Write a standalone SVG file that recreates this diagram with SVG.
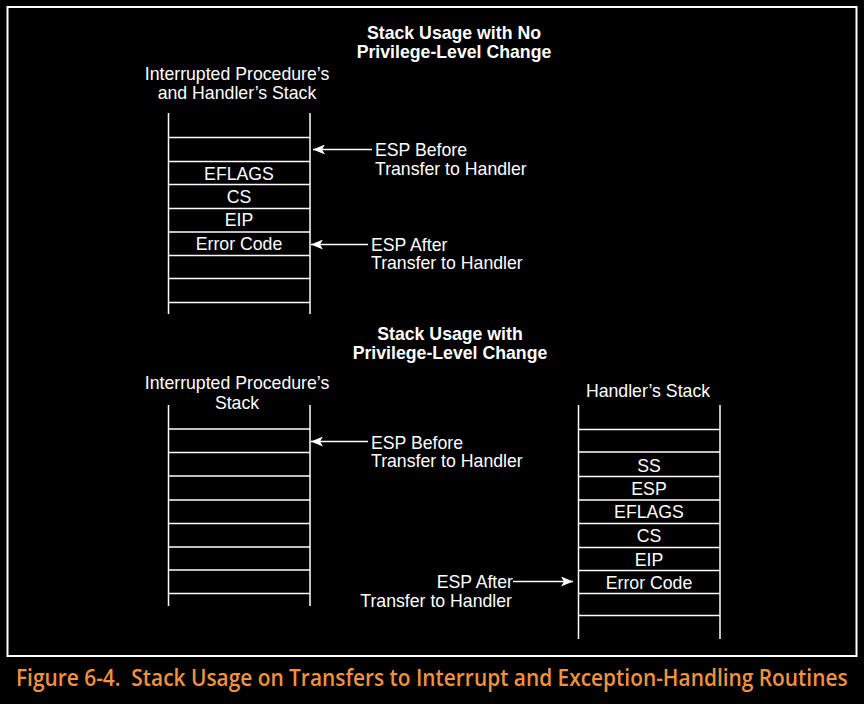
<svg xmlns="http://www.w3.org/2000/svg" width="864" height="704" viewBox="0 0 864 704">
<defs>
<style>
.t{font-family:"Liberation Sans",Arial,sans-serif;font-size:17.7px;fill:#fff}
.b{font-weight:bold}
.m{text-anchor:middle}
.e{text-anchor:end}
.ln{stroke:#fff;stroke-width:1.5;fill:none}
.cap{font-family:"Open Sans","Liberation Sans",sans-serif;font-size:24px;font-weight:600;fill:#F0923E}
</style>
<marker id="ah" viewBox="0 0 12 10" refX="12" refY="5" markerWidth="12" markerHeight="10" markerUnits="userSpaceOnUse" orient="auto">
<path d="M0,0 L12,5 L0,10 L3,5 Z" fill="#fff"/>
</marker>
</defs>
<rect x="0" y="0" width="864" height="704" fill="#000"/>
<rect x="7.5" y="7" width="849" height="649" fill="none" stroke="#fff" stroke-width="2"/>

<g id="title-top">
<text class="t b m" x="454" y="39">Stack Usage with No</text>
<text class="t b m" x="454" y="58">Privilege-Level Change</text>
</g>
<g id="stack-top">
<text class="t m" x="237" y="80">Interrupted Procedure’s</text>
<text class="t m" x="237" y="98.5">and Handler’s Stack</text>
<path class="ln" d="M168.5,113 V314 M310,113 V314 M168.5,137.5 H310 M168.5,161.5 H310 M168.5,184.5 H310 M168.5,208.5 H310 M168.5,232 H310 M168.5,255.5 H310 M168.5,278.5 H310 M168.5,302.5 H310"/>
<text class="t m" x="239" y="180">EFLAGS</text>
<text class="t m" x="239" y="203">CS</text>
<text class="t m" x="239" y="226">EIP</text>
<text class="t m" x="239" y="250">Error Code</text>
</g>
<g id="label-top-before">
<text class="t" x="375" y="156">ESP Before</text>
<text class="t" x="375" y="175">Transfer to Handler</text>
</g>
<g id="label-top-after">
<text class="t" x="371" y="250.5">ESP After</text>
<text class="t" x="371" y="269">Transfer to Handler</text>
</g>

<g id="title-bottom">
<text class="t b m" x="450" y="340">Stack Usage with</text>
<text class="t b m" x="450" y="359">Privilege-Level Change</text>
</g>
<g id="stack-interrupted">
<text class="t m" x="237" y="388.5">Interrupted Procedure’s</text>
<text class="t m" x="237" y="408.5">Stack</text>
<path class="ln" d="M168.5,405 V606 M310,405 V606 M168.5,429 H310 M168.5,452.5 H310 M168.5,476 H310 M168.5,500 H310 M168.5,523.5 H310 M168.5,547 H310 M168.5,570 H310 M168.5,593.5 H310"/>
</g>
<g id="label-bottom-before">
<text class="t" x="371" y="448.5">ESP Before</text>
<text class="t" x="371" y="467">Transfer to Handler</text>
</g>
<g id="stack-handler">
<text class="t m" x="648" y="397">Handler’s Stack</text>
<path class="ln" d="M578.5,405 V639 M720,405 V639 M578.5,429.5 H720 M578.5,452 H720 M578.5,476.5 H720 M578.5,500 H720 M578.5,523.5 H720 M578.5,547.5 H720 M578.5,570.5 H720 M578.5,593.5 H720 M578.5,615.5 H720"/>
<text class="t m" x="649" y="471.5">SS</text>
<text class="t m" x="649" y="495">ESP</text>
<text class="t m" x="649" y="517.5">EFLAGS</text>
<text class="t m" x="649" y="541.5">CS</text>
<text class="t m" x="649" y="565.5">EIP</text>
<text class="t m" x="649" y="588.5">Error Code</text>
</g>
<g id="label-bottom-after">
<text class="t e" x="513" y="587.5">ESP After</text>
<text class="t e" x="512" y="607">Transfer to Handler</text>
</g>

<g id="connectors">
<line class="ln" x1="372" y1="149.5" x2="313" y2="149.5" marker-end="url(#ah)"/>
<line class="ln" x1="368" y1="244.5" x2="311" y2="244.5" marker-end="url(#ah)"/>
<line class="ln" x1="368" y1="441.5" x2="311" y2="441.5" marker-end="url(#ah)"/>
<line class="ln" x1="513" y1="581.5" x2="573" y2="581.5" marker-end="url(#ah)"/>
</g>

<text class="cap" transform="translate(16,686) scale(0.77,1)" x="0" y="0" textLength="1080" lengthAdjust="spacingAndGlyphs">Figure 6-4.&#160; Stack Usage on Transfers to Interrupt and Exception-Handling Routines</text>
</svg>
